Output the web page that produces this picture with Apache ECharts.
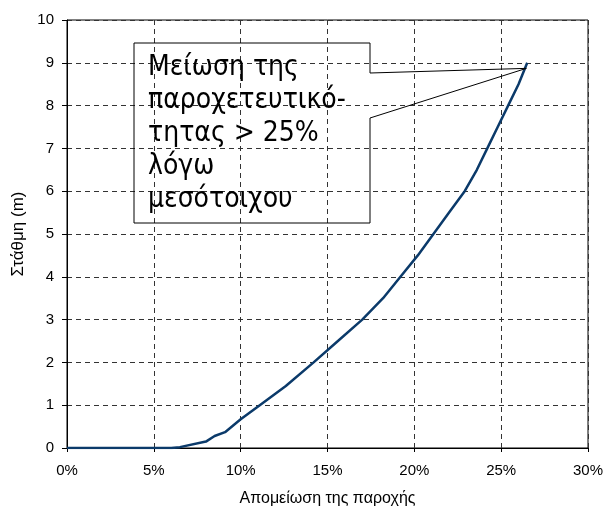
<!DOCTYPE html>
<html>
<head>
<meta charset="utf-8">
<script src="https://cdn.jsdelivr.net/npm/echarts@6/dist/echarts.min.js"></script>
<style>html,body{margin:0;padding:0;background:#fff;}#c{width:607px;height:512px;}</style>
</head>
<body>
<div id="c"></div>
<script>
// Data
const reductionPct = [0, 6.0, 6.5, 8.0, 8.5, 9.1, 10.0, 11.1, 12.6, 14.2, 15.6, 17.0, 18.2, 19.2, 20.2, 21.1, 22.0, 22.9, 23.6, 24.2, 24.8, 25.4, 26.0, 26.5];
const levelM = [0, 0, 0.02, 0.15, 0.28, 0.37, 0.67, 1.0, 1.45, 2.0, 2.5, 3.0, 3.5, 4.0, 4.5, 5.0, 5.5, 6.0, 6.5, 7.0, 7.5, 8.0, 8.5, 9.0];
const xTicks = [0, 5, 10, 15, 20, 25, 30];
const yTicks = [0, 1, 2, 3, 4, 5, 6, 7, 8, 9, 10];
const xAxisName = 'Απομείωση της παροχής';
const yAxisName = 'Στάθμη (m)';
const calloutLines = ['Μείωση της', 'παροχετευτικό-', 'τητας > 25%', 'λόγω', 'μεσότοιχου'];
const calloutTarget = [26.45, 8.87];

const chart = echarts.init(document.getElementById('c'), null, {renderer: 'canvas'});
const ff = 'Liberation Sans, Arial, sans-serif';
const option = {
  animation: false,
  backgroundColor: '#fff',
  grid: {left: 67, right: 19, top: 20, bottom: 63, show: true, borderColor: '#000', borderWidth: 1, backgroundColor: 'transparent'},
  xAxis: {
    type: 'value', min: xTicks[0], max: xTicks[xTicks.length - 1], interval: 5,
    name: xAxisName, nameLocation: 'middle', nameGap: 43,
    nameTextStyle: {fontFamily: ff, fontSize: 16, color: '#000'},
    axisLine: {show: true, lineStyle: {color: '#000', width: 1}},
    axisTick: {show: true, length: 4, inside: false, lineStyle: {color: '#000'}},
    axisLabel: {margin: 15, formatter: v => v + '%', fontFamily: ff, fontSize: 15, color: '#000'},
    splitLine: {show: true, lineStyle: {color: '#333', type: [5, 4], width: 1}}
  },
  yAxis: {
    type: 'value', min: yTicks[0], max: yTicks[yTicks.length - 1], interval: 1,
    name: yAxisName, nameLocation: 'middle', nameGap: 38, nameRotate: 90,
    nameTextStyle: {fontFamily: ff, fontSize: 17, color: '#000'},
    axisLine: {show: true, lineStyle: {color: '#000', width: 1}},
    axisTick: {show: true, length: 5, inside: false, lineStyle: {color: '#000'}},
    axisLabel: {margin: 13, fontFamily: ff, fontSize: 15, color: '#000'},
    splitLine: {show: true, lineStyle: {color: '#333', type: [5, 4], width: 1}}
  },
  series: [{
    type: 'line',
    data: reductionPct.map((x, i) => [x, levelM[i]]),
    showSymbol: false,
    smooth: false,
    lineStyle: {color: '#0b3a6a', width: 2.5},
    z: 3
  }]
};
chart.setOption(option);

// Callout annotation
const tip = chart.convertToPixel({gridIndex: 0}, calloutTarget);
const bx0 = 134, by0 = 43, bx1 = 370, by1 = 223;
chart.setOption({
  graphic: [
    {
      type: 'polygon',
      shape: {points: [[bx0, by0], [bx1, by0], [bx1, 73], tip, [bx1, 118], [bx1, by1], [bx0, by1]]},
      style: {fill: 'none', stroke: '#000', lineWidth: 1},
      z: 10
    },
    {
      type: 'text',
      left: 148, top: 51,
      style: {
        text: calloutLines.join('\n'),
        font: '28px "DejaVu Sans Condensed", "DejaVu Sans", sans-serif',
        lineHeight: 33,
        fill: '#000'
      },
      z: 11
    }
  ]
});
</script>
</body>
</html>
